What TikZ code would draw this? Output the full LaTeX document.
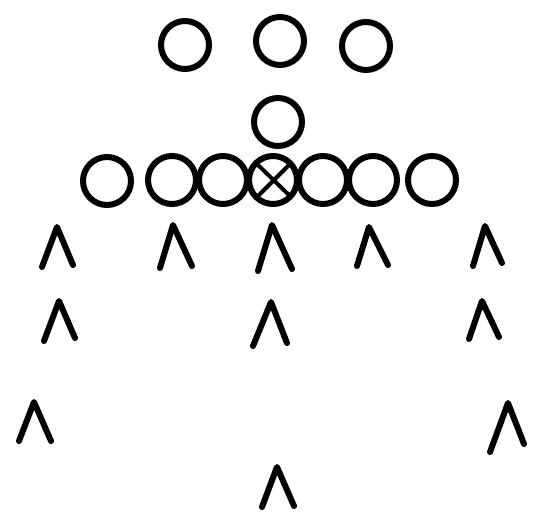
\documentclass[tikz,border=0pt]{standalone}
\begin{document}
\begin{tikzpicture}[x=1pt,y=-1pt,
  player/.style={circle,draw=black,line width=6pt,inner sep=0pt,minimum size=48pt},
  caret/.style={draw=black,line width=6pt,line cap=round,line join=round},
  xmark/.style={draw=black,line width=4pt,line cap=round}]
\useasboundingbox[fill=white] (0,0) rectangle (552,521);
% backfield
\node[player] (b1) at (185,45) {};
\node[player] (b2) at (280,41) {};
\node[player] (b3) at (366,46) {};
\node[player] (qb) at (278,122) {};
% line
\node[player] (l1) at (107,181) {};
\node[player] (l2) at (172,180) {};
\node[player] (l3) at (223,180) {};
\node[player] (c)  at (273,180) {};
\node[player] (l5) at (323,180) {};
\node[player] (l6) at (373,180) {};
\node[player] (l7) at (432,180) {};
\draw[xmark] (c.center) +(-15,-15) -- +(17,16);
\draw[xmark] (c.center) +(18,-17) -- +(-15,16);
% defense row 1
\draw[caret] (42,267) -- (57,227) -- (73,265);
\draw[caret] (160,268) -- (173,225) -- (192,266);
\draw[caret] (258,271) -- (272,225) -- (292,269);
\draw[caret] (357,266) -- (369,227) -- (388,265);
\draw[caret] (473,266) -- (485,226) -- (502,263);
% defense row 2
\draw[caret] (44,341) -- (59,301) -- (75,338);
\draw[caret] (253,346) -- (271,302) -- (287,343);
\draw[caret] (469,339) -- (482,301) -- (499,337);
% defense row 3
\draw[caret] (19,441) -- (34,402) -- (51,441);
\draw[caret] (490,452) -- (508,403) -- (524,444);
% safety
\draw[caret] (262,507) -- (277,467) -- (294,506);
\end{tikzpicture}
\end{document}
